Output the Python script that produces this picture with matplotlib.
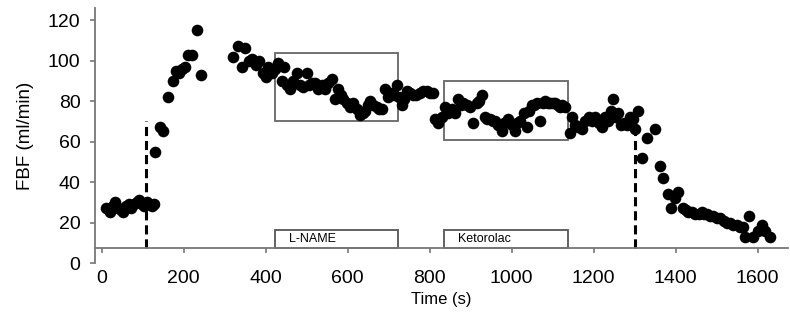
import numpy as np
import matplotlib
matplotlib.use("Agg")
from matplotlib import pyplot as plt
from matplotlib.patches import Rectangle

plt.rcParams['font.family'] = ['Liberation Sans', 'DejaVu Sans']

# forearm blood flow readings (time in s, FBF in ml/min)
time = [12, 20, 27, 33, 40, 47, 53, 60, 66, 73, 80, 86, 92, 98, 104, 110, 116, 122, 127,
        130, 143, 150, 163, 173, 182, 188, 196, 203, 212, 220, 233, 243,
        321, 332, 342, 350, 360, 368, 376, 384, 394, 400, 407, 415, 423, 431, 439, 445,
        452, 460, 468, 476, 484, 492, 500, 506, 514, 521, 529, 537, 545, 553, 561, 570,
        577, 584, 590, 598, 606, 614, 622, 630, 637, 643, 649, 655, 663, 671, 677, 683,
        691, 698, 705, 712, 720, 726, 732, 738, 744, 752, 760, 768, 777, 785, 793, 801,
        809, 813, 821, 829, 838, 846, 854, 862, 870, 876, 882, 890, 899, 907, 915, 921,
        927, 935, 941, 947, 954, 960, 968, 976, 982, 992, 1000, 1008, 1014, 1021, 1029,
        1037, 1043, 1049, 1055, 1061, 1069, 1076, 1082, 1088, 1094, 1100, 1106, 1112,
        1118, 1124, 1130, 1142, 1147, 1155, 1163, 1171, 1180, 1188, 1196, 1204, 1212,
        1220, 1228, 1236, 1243, 1248, 1252, 1260, 1266, 1273, 1281, 1289, 1297, 1301,
        1309, 1317, 1330, 1350, 1362, 1370, 1382, 1388, 1399, 1406, 1419, 1425, 1431,
        1440, 1448, 1456, 1464, 1470, 1476, 1484, 1492, 1500, 1509, 1517, 1525, 1533,
        1541, 1549, 1557, 1565, 1569, 1579, 1589, 1600, 1610, 1619, 1631]
fbf = [27, 25, 28, 30, 27, 26, 25, 28, 29, 27, 29, 30, 31, 29, 28, 30, 29, 28, 29,
       55, 67, 65, 82, 90, 95, 94, 96, 97, 103, 103, 115, 93,
       102, 107, 97, 106, 100, 101, 98, 100, 94, 92, 97, 94, 96, 99, 90, 97,
       88, 86, 90, 94, 88, 87, 94, 88, 89, 89, 86, 88, 86, 89, 91, 81,
       86, 83, 81, 79, 77, 79, 76, 73, 74, 75, 78, 80, 78, 77, 76, 76,
       86, 82, 84, 83, 88, 82, 78, 81, 85, 84, 83, 83, 84, 85, 85, 84,
       84, 71, 69, 72, 77, 74, 76, 74, 81, 78, 79, 78, 77, 69, 79, 80,
       83, 72, 71, 71, 70, 70, 68, 65, 69, 71, 68, 65, 69, 70, 74,
       67, 75, 78, 78, 79, 70, 79, 80, 79, 79, 79, 79, 78,
       77, 78, 77, 64, 72, 68, 67, 66, 70, 72, 70, 72, 69,
       67, 72, 70, 75, 81, 72, 74, 68, 69, 68, 72, 71, 66,
       75, 52, 62, 66, 48, 42, 34, 27, 32, 35, 27, 26, 25,
       25, 24, 24, 25, 24, 24, 23, 23, 22, 22, 21, 20, 20,
       19, 19, 18, 18, 13, 23, 13, 16, 19, 16, 13]

# drug infusion periods
drugs = ['L-NAME', 'Ketorolac']
drug_start = [422, 835]
drug_end = [722, 1137]
box_low = [70, 61]
box_high = [104, 90]

# dashed markers
marker_t = [108, 1302]
marker_top = [70, 69]

fig = plt.figure(figsize=(7.9, 3.2), dpi=100)
ax = fig.add_axes([95/790, 57/320, 693/790, 255/320])

ax.scatter(time, fbf, s=70, color='black', zorder=3, linewidths=0)

for t, top in zip(marker_t, marker_top):
    ax.plot([t, t], [7.3, top], color='black', lw=2.2, ls=(0, (3, 1.6)), zorder=2)

for name, a, b, lo, hi in zip(drugs, drug_start, drug_end, box_low, box_high):
    ax.add_patch(Rectangle((a, lo), b - a, hi - lo, fill=False, edgecolor='#666666', lw=1.3))
    ax.add_patch(Rectangle((a, 7.3), b - a, 9, fill=False, edgecolor='#555555', lw=1.3))
    ax.text(a + 35, 11.8, name, fontsize=9, va='center', ha='left')

ax.set_xlim(-16, 1674)
ax.set_ylim(0, 126)
ax.set_xticks(np.arange(0, 1601, 200))
ax.set_yticks(np.arange(0, 121, 20))

for s in ['top', 'right']:
    ax.spines[s].set_visible(False)
ax.spines['bottom'].set_position(('data', 7.3))
for s in ['left', 'bottom']:
    ax.spines[s].set_color('#777777')
    ax.spines[s].set_linewidth(1.3)

ax.tick_params(axis='x', direction='out', length=3.5, width=1.2, color='#777777', pad=12, labelsize=14)
ax.tick_params(axis='y', direction='out', length=3.5, width=1.2, color='#777777', pad=7, labelsize=14)

ax.set_xlabel('Time (s)', fontsize=12, labelpad=4)
ax.set_ylabel('FBF (ml/min)', fontsize=13.5, labelpad=10)

fig.savefig('out.png', dpi=100)
